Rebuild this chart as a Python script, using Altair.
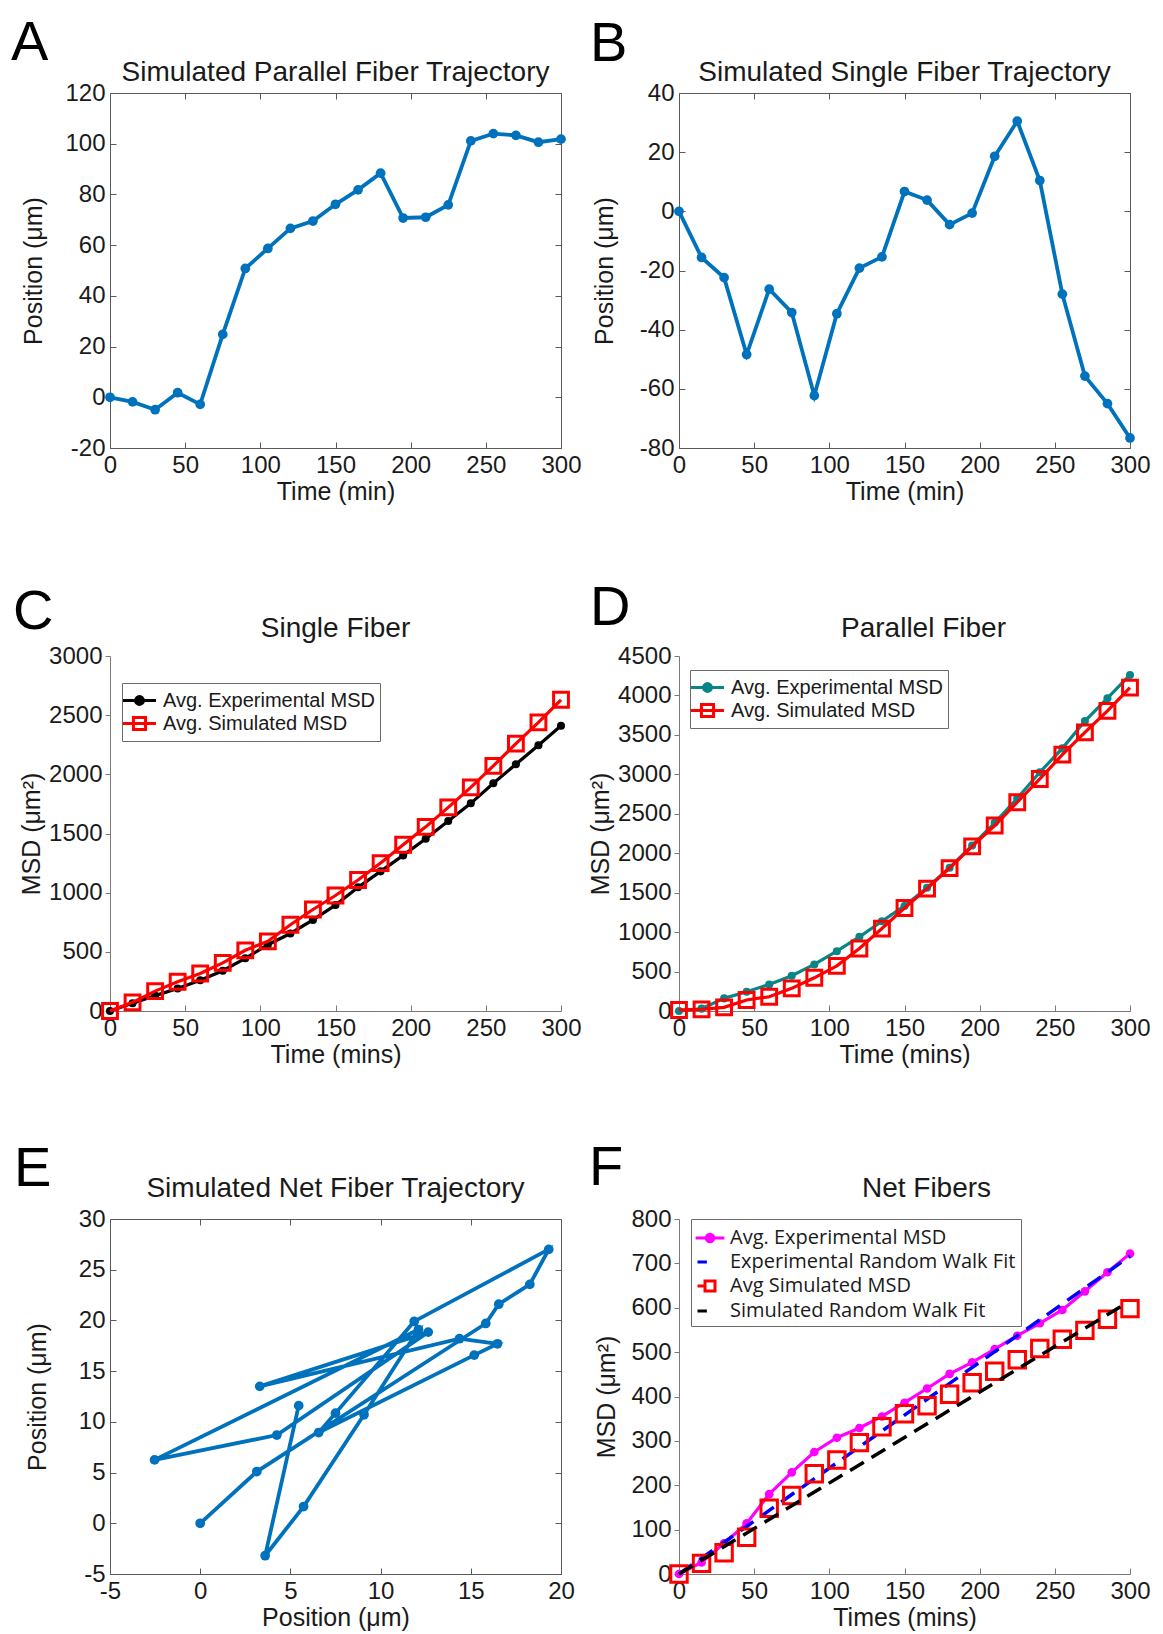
import altair as alt
import pandas as pd

FONT = "Liberation Sans"
TXT = "#1a1a1a"
BOX = "#5a5a5a"
GRAYAX = "#7a7a7a"
W, H = 451, 355
NB = "\u00a0" * 5

T = list(range(0, 301, 15))

# Panel A: simulated parallel fiber trajectory
A_pos = [0, -1.8, -4.9, 1.8, -2.8, 24.8, 50.8, 58.7, 66.6, 69.5, 76.1, 81.8, 88.4,
         70.7, 71.0, 75.9, 101.1, 104.0, 103.3, 100.6, 101.8]
# Panel B: simulated single fiber trajectory
B_pos = [0, -15.6, -22.4, -48.4, -26.3, -34.2, -62.3, -34.6, -19.2, -15.4, 6.7, 3.8,
         -4.5, -0.6, 18.6, 30.5, 10.4, -28.0, -55.7, -65.0, -76.6]
# Panel C: single fiber MSD
C_exp = [0, 65, 130, 190, 260, 340, 445, 560, 655, 770, 895, 1045, 1180, 1315, 1455,
         1605, 1755, 1925, 2085, 2245, 2410]
C_sim = [0, 73, 168, 247, 317, 407, 513, 589, 729, 858, 976, 1107, 1250, 1405, 1556,
         1721, 1890, 2072, 2260, 2439, 2630]
# Panel D: parallel fiber MSD
D_exp = [0, 30, 160, 244, 337, 447, 590, 758, 940, 1138, 1332, 1563, 1816, 2099, 2385,
         2697, 3026, 3329, 3675, 3965, 4260]
D_sim = [13, 20, 46, 139, 181, 287, 421, 573, 792, 1045, 1306, 1551, 1812, 2086, 2351,
         2646, 2941, 3249, 3531, 3805, 4100]
# Panel E: simulated net fiber trajectory (x, y in visiting order)
E_x = [0, 3.14, 15.83, 16.55, 18.27, 19.32, 11.86, 7.5, 6.57, 15.19, 16.48, 14.37,
       3.3, 12.64, 4.25, -2.53, 12.1, 9.08, 5.73, 3.6, 5.46]
E_y = [0, 5.1, 19.7, 21.6, 23.55, 27.0, 19.9, 10.86, 8.95, 16.58, 17.7, 18.2,
       13.5, 18.85, 8.7, 6.25, 19.1, 10.7, 1.65, -3.2, 11.6]
# Panel F: net fibers MSD
F_exp = [0, 26, 69, 114, 180, 229, 275, 307, 329, 355, 386, 418, 451, 477, 507, 537,
         565, 595, 637, 680, 722]
F_sim = [0, 24, 48, 83, 148, 177, 226, 257, 296, 332, 361, 379, 405, 431, 457, 483,
         508, 529, 549, 574, 598]
F_fit_t = [0, 300]
F_exp_fit = [0, 716]
F_simfit_t = [0, 295]
F_sim_fit = [0, 605]

LBL = "datum.value + ''"


def axis(title, values, box, is_x, title_pad):
    kw = dict(title=title, values=values, labelExpr=LBL, labelFont=FONT,
              labelFontSize=24, labelColor=TXT, titleFont=FONT, titleFontSize=25,
              titleFontWeight="normal", titleColor=TXT, labelFlush=False,
              labelOverlap=False, titlePadding=title_pad, grid=True,
              gridColor=BOX, gridOpacity=1, gridWidth=1)
    if box:
        L = H if is_x else W
        kw.update(domain=False, ticks=False, labelPadding=5,
                  gridDash=[6, L - 12, 6, 2000])
    else:
        kw.update(domain=True, domainColor=GRAYAX, domainWidth=1)
        if is_x:
            kw.update(ticks=False, labelPadding=5, gridDash=[0, H - 6, 6, 2000],
                      gridColor=GRAYAX)
        else:
            kw.update(ticks=True, tickSize=5, tickColor=GRAYAX, labelPadding=3,
                      gridOpacity=0)
    return alt.Axis(**kw)


def text_at(txt, x, y, size, align, color=TXT):
    return alt.Chart(pd.DataFrame({"L": [txt]})).mark_text(
        font=FONT, fontSize=size, align=align, baseline="alphabetic", color=color
    ).encode(text="L:N", x=alt.value(x), y=alt.value(y))


def letter(ch, dx, dy):
    return text_at(ch, dx, dy, 56, "left", "black")


def ptitle(txt, dy, dx=0):
    return text_at(txt, W / 2 + dx, dy, 28, "center")


def legend_layer(names, strokes, fills, paths, lx, ly, font, fsize, ssize, loff):
    df = pd.DataFrame({"series": names})
    leg = dict(orient="none", legendX=lx, legendY=ly, title=None, labelFont=font,
               labelFontSize=fsize, labelColor=TXT, labelLimit=600, symbolSize=ssize,
               symbolStrokeWidth=3, strokeColor="#6a6a6a", fillColor="white",
               padding=5, rowPadding=0, labelOffset=loff, symbolOpacity=1)
    return alt.Chart(df).transform_filter("false").mark_point(opacity=1).encode(
        shape=alt.Shape("series:N", scale=alt.Scale(domain=names, range=paths),
                        legend=alt.Legend(**leg)),
        stroke=alt.Stroke("series:N", scale=alt.Scale(domain=names, range=strokes),
                          legend=alt.Legend(**leg)),
        fill=alt.Fill("series:N", scale=alt.Scale(domain=names, range=fills),
                      legend=alt.Legend(**leg)),
    )


BLUE = "#0072BD"
CIRC_W = "M-1.5,0H1.5M-0.36,0A0.36,0.36,0,1,0,0.36,0A0.36,0.36,0,1,0,-0.36,0Z"
SQ_W = "M-1.5,0H1.5M-0.55,-0.55H0.55V0.55H-0.55Z"
CIRC_LINE = "M-1.15,0H1.15M-0.3,0A0.3,0.3,0,1,0,0.3,0A0.3,0.3,0,1,0,-0.3,0Z"
SQ_STUB = "M-1,0H-0.4M-0.4,-0.4H0.4V0.4H-0.4Z"
DASH = "M-1,0H-0.25"

xs300 = alt.Scale(domain=[0, 300], nice=False, zero=False)
xv300 = [0, 50, 100, 150, 200, 250, 300]

# ---------- A ----------
dfA = pd.DataFrame({"t": T, "v": A_pos})
encA = dict(
    x=alt.X("t:Q", scale=xs300, axis=axis("Time (min)", xv300, True, True, 2)),
    y=alt.Y("v:Q", scale=alt.Scale(domain=[-20, 120], nice=False),
            axis=axis("Position (μm)", list(range(-20, 121, 20)), True, False, 18)),
)
A = alt.layer(
    alt.Chart(dfA).mark_line(color=BLUE, strokeWidth=3.8).encode(**encA),
    alt.Chart(dfA).mark_circle(color=BLUE, size=95, opacity=1).encode(**encA),
    letter("A", -99, -33),
    ptitle("Simulated Parallel Fiber Trajectory", -12),
).properties(width=W, height=H, view=alt.ViewBackground(stroke=BOX, strokeWidth=1))

# ---------- B ----------
dfB = pd.DataFrame({"t": T, "v": B_pos})
encB = dict(
    x=alt.X("t:Q", scale=xs300, axis=axis("Time (min)", xv300, True, True, 2)),
    y=alt.Y("v:Q", scale=alt.Scale(domain=[-80, 40], nice=False),
            axis=axis("Position (μm)", list(range(-80, 41, 20)), True, False, 22)),
)
B = alt.layer(
    alt.Chart(dfB).mark_line(color=BLUE, strokeWidth=3.8).encode(**encB),
    alt.Chart(dfB).mark_circle(color=BLUE, size=95, opacity=1).encode(**encB),
    letter("B", -89, -32),
    ptitle("Simulated Single Fiber Trajectory", -12),
).properties(width=W, height=H, view=alt.ViewBackground(stroke=BOX, strokeWidth=1))


# ---------- MSD helpers ----------
def msd_enc(field, ymax, ystep, xtitle, tpad):
    return dict(
        x=alt.X("t:Q", scale=xs300, axis=axis(xtitle, xv300, False, True, 2)),
        y=alt.Y(field + ":Q", scale=alt.Scale(domain=[0, ymax], nice=False),
                axis=axis("MSD (μm²)", list(range(0, ymax + 1, ystep)), False, False,
                          tpad)),
    )


LEG2 = ["Avg. Experimental MSD" + NB, "Avg. Simulated MSD" + NB]

# ---------- C ----------
dfC = pd.DataFrame({"t": T, "exp": C_exp, "sim": C_sim})
eCe = msd_enc("exp", 3000, 500, "Time (mins)", 4)
eCs = msd_enc("sim", 3000, 500, "Time (mins)", 4)
C = alt.layer(
    alt.Chart(dfC).mark_line(color="black", strokeWidth=3.2).encode(**eCe),
    alt.Chart(dfC).mark_circle(color="black", size=65, opacity=1).encode(**eCe),
    alt.Chart(dfC).mark_line(color="#ff0000", strokeWidth=3.2).encode(**eCs),
    alt.Chart(dfC).mark_point(shape="square", filled=False, color="#ff0000", size=220,
                              strokeWidth=3, opacity=1).encode(**eCs),
    legend_layer(LEG2, ["black", "#ff0000"], ["black", "white"], [CIRC_W, SQ_W],
                 12, 27, FONT, 20, 484, 11),
    letter("C", -97, -27),
    ptitle("Single Fiber", -19),
).properties(width=W, height=H)

# ---------- D ----------
TEAL = "#0a8585"
dfD = pd.DataFrame({"t": T, "exp": D_exp, "sim": D_sim})
eDe = msd_enc("exp", 4500, 500, "Time (mins)", 4)
eDs = msd_enc("sim", 4500, 500, "Time (mins)", 4)
D = alt.layer(
    alt.Chart(dfD).mark_line(color=TEAL, strokeWidth=3.2).encode(**eDe),
    alt.Chart(dfD).mark_circle(color=TEAL, size=65, opacity=1).encode(**eDe),
    alt.Chart(dfD).mark_line(color="#ff0000", strokeWidth=3.2).encode(**eDs),
    alt.Chart(dfD).mark_point(shape="square", filled=False, color="#ff0000", size=220,
                              strokeWidth=3, opacity=1).encode(**eDs),
    legend_layer(LEG2, [TEAL, "#ff0000"], [TEAL, "white"], [CIRC_W, SQ_W],
                 11, 14, FONT, 20, 484, 11),
    letter("D", -89, -31),
    ptitle("Parallel Fiber", -19, 19),
).properties(width=W, height=H)

# ---------- E ----------
dfE = pd.DataFrame({"i": list(range(len(E_x))), "x": E_x, "y": E_y})
encE = dict(
    x=alt.X("x:Q", scale=alt.Scale(domain=[-5, 20], nice=False, zero=False),
            axis=axis("Position (μm)", [-5, 0, 5, 10, 15, 20], True, True, 2)),
    y=alt.Y("y:Q", scale=alt.Scale(domain=[-5, 30], nice=False, zero=False),
            axis=axis("Position (μm)", [-5, 0, 5, 10, 15, 20, 25, 30], True, False,
                      28)),
)
E = alt.layer(
    alt.Chart(dfE).mark_line(color=BLUE, strokeWidth=3.8).encode(order="i:Q", **encE),
    alt.Chart(dfE).mark_circle(color=BLUE, size=95, opacity=1).encode(**encE),
    letter("E", -96, -33),
    ptitle("Simulated Net Fiber Trajectory", -22),
).properties(width=W, height=H, view=alt.ViewBackground(stroke=BOX, strokeWidth=1))

# ---------- F ----------
dfF = pd.DataFrame({"t": T, "exp": F_exp, "sim": F_sim})
dfFe = pd.DataFrame({"t": F_fit_t, "fit": F_exp_fit})
dfFs = pd.DataFrame({"t": F_simfit_t, "fit": F_sim_fit})
eFe = msd_enc("exp", 800, 100, "Times (mins)", 11)
eFs = msd_enc("sim", 800, 100, "Times (mins)", 11)
eFf = msd_enc("fit", 800, 100, "Times (mins)", 11)
F = alt.layer(
    alt.Chart(dfF).mark_line(color="#ff00ff", strokeWidth=3.2).encode(**eFe),
    alt.Chart(dfF).mark_circle(color="#ff00ff", size=75, opacity=1).encode(**eFe),
    alt.Chart(dfFe).mark_line(color="#0000ff", strokeWidth=3.5,
                              strokeDash=[16, 9]).encode(**eFf),
    alt.Chart(dfF).mark_point(shape="square", filled=False, color="#ff0000", size=270,
                              strokeWidth=3, opacity=1).encode(**eFs),
    alt.Chart(dfFs).mark_line(color="black", strokeWidth=3.5,
                              strokeDash=[16, 9]).encode(**eFf),
    legend_layer(["Avg. Experimental MSD", "Experimental Random Walk Fit",
                  "Avg Simulated MSD", "Simulated Random Walk Fit"],
                 ["#ff00ff", "#0000ff", "#ff0000", "black"],
                 ["#ff00ff", "transparent", "white", "transparent"],
                 [CIRC_LINE, DASH, SQ_STUB, DASH],
                 12, 0, "Open Sans", 20, 625, 6),
    letter("F", -90, -34),
    ptitle("Net Fibers", -22, 22),
).properties(width=W, height=H)

chart = alt.concat(A, B, C, D, E, F, columns=2, spacing={"row": 208, "column": 118},
                   bounds="flush").resolve_scale(
    shape="independent", stroke="independent", fill="independent"
).configure_view(stroke="transparent").properties(
    padding={"left": 2, "top": 6, "right": 2, "bottom": 2})

chart.save("out.html", embed_options={"renderer": "svg", "actions": False})
